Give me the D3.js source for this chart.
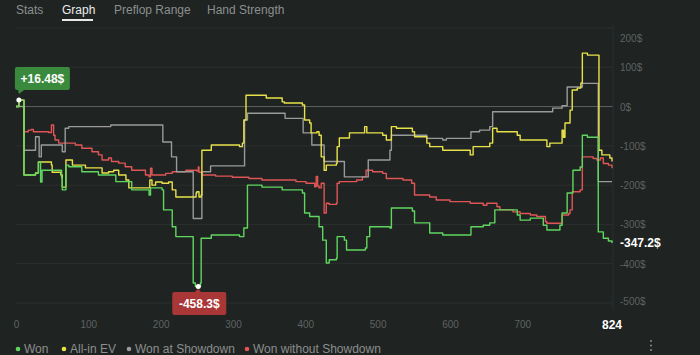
<!DOCTYPE html>
<html><head><meta charset="utf-8">
<script src="https://cdn.jsdelivr.net/npm/d3@7"></script>
<style>
html,body{margin:0;padding:0;background:#1f2322;}
svg{display:block;font-family:"Liberation Sans",Arial,sans-serif;}
</style></head>
<body><svg id="c" width="700" height="355"></svg>
<script>
// ---- data ----
const tabs = ["Stats","Graph","Preflop Range","Hand Strength"];
const activeTab = "Graph";
const legendLabels = ["Won","All-in EV","Won at Showdown","Won without Showdown"];
const seriesColors = ["#5fd65f","#e8e24a","#9a9a9a","#e05555"];
const yTicks = [200,100,0,-100,-200,-300,-400,-500];
const xTicks = [0,100,200,300,400,500,600,700];
const totalHands = 824;
const finalValue = -347.2;
const maxLabel = "+16.48$";
const minLabel = "-458.3$";
const startPoint = [4,16.48];
const minPoint = [252,-458.3];

const wonData = [[0,0],[4,16.48],[10,16.48],[11,-174],[27,-169],[31,-141],[34,-192],[36,-162],[63,-182],[64,-212],[68,-212],[69,-149],[73,-153],[91,-166],[114,-174],[138,-191],[160,-212],[184,-225],[186,-207],[202,-212],[204,-263],[216,-306],[221,-331],[243,-331],[245,-449],[248,-458.3],[255,-449],[256,-335],[268,-335],[270,-327],[309,-331],[315,-309],[320,-200],[340,-205],[368,-212],[396,-220],[399,-271],[406,-280],[419,-306],[424,-340],[429,-398],[433,-390],[443,-386],[444,-331],[454,-340],[457,-365],[483,-360],[485,-331],[489,-306],[517,-309],[519,-258],[548,-266],[551,-296],[572,-322],[590,-327],[628,-327],[629,-306],[646,-302],[655,-296],[662,-263],[693,-276],[697,-289],[711,-284],[729,-302],[734,-314],[752,-302],[755,-271],[762,-220],[769,-220],[770,-162],[780,-154],[783,-73],[790,-78],[804,-78],[805,-319],[812,-335],[819,-342],[824,-347.2]];

const evData = [[0,0],[4,16.48],[10,16.48],[11,-174],[27,-169],[31,-141],[35,-141],[49,-149],[50,-167],[62,-174],[64,-205],[68,-205],[69,-136],[77,-136],[78,-149],[91,-149],[96,-156],[114,-156],[119,-169],[128,-166],[135,-162],[142,-174],[152,-187],[156,-207],[184,-207],[185,-187],[188,-200],[193,-192],[202,-195],[211,-192],[216,-212],[221,-230],[243,-230],[249,-220],[250,-217],[253,-230],[256,-225],[257,-111],[267,-111],[270,-98],[309,-102],[313,-93],[315,-34],[318,29],[320,29],[346,22],[368,12],[371,9],[396,4],[399,-34],[406,-42],[408,-67],[415,-67],[416,-64],[419,-73],[422,-128],[426,-162],[429,-149],[431,-149],[443,-144],[444,-102],[447,-80],[454,-80],[461,-67],[479,-67],[482,-51],[485,-67],[489,-67],[507,-73],[512,-85],[519,-51],[526,-55],[548,-64],[551,-77],[568,-93],[572,-102],[590,-111],[600,-111],[628,-123],[632,-102],[655,-93],[659,-55],[665,-64],[693,-73],[697,-85],[725,-85],[734,-102],[738,-93],[752,-93],[755,-60],[757,-78],[759,-42],[766,-9],[769,42],[776,47],[781,60],[783,136],[790,131],[804,131],[806,-111],[810,-123],[821,-131],[824,-140]];

const sdData = [[0,0],[10,0],[11,-111],[27,-77],[32,-128],[35,-98],[64,-115],[68,-55],[73,-51],[131,-47],[203,-90],[215,-128],[222,-166],[245,-285],[257,-166],[269,-151],[316,-34],[320,-17],[372,-30],[397,-67],[409,-98],[426,-140],[454,-179],[487,-136],[517,-111],[519,-73],[568,-81],[590,-85],[595,-81],[629,-64],[641,-60],[655,-51],[659,-13],[742,-4],[755,2],[762,50],[783,59],[805,-191],[824,-191]];

const nsdData = [[0,0],[4,16.48],[10,16.48],[11,-64],[17,-60],[21,-58],[24,-64],[45,-66],[49,-47],[52,-73],[54,-85],[59,-93],[82,-98],[91,-106],[105,-115],[114,-123],[119,-136],[128,-131],[132,-140],[142,-144],[151,-153],[160,-162],[179,-174],[184,-179],[186,-157],[188,-174],[207,-170],[216,-166],[235,-162],[250,-164],[252,-154],[253,-167],[257,-174],[276,-177],[299,-180],[322,-183],[340,-187],[387,-191],[401,-195],[413,-204],[415,-178],[417,-202],[419,-207],[422,-195],[426,-271],[429,-246],[433,-249],[443,-246],[444,-195],[447,-191],[471,-187],[479,-179],[484,-162],[493,-166],[507,-170],[512,-183],[535,-187],[547,-195],[551,-225],[572,-230],[581,-238],[600,-242],[628,-246],[646,-251],[651,-246],[665,-255],[669,-263],[687,-268],[697,-272],[711,-276],[720,-280],[732,-293],[734,-297],[752,-297],[755,-276],[764,-272],[766,-263],[769,-217],[780,-212],[783,-128],[798,-132],[803,-136],[808,-131],[812,-145],[819,-149],[824,-157]];

const allSeries = [wonData, evData, sdData, nsdData];

// ---- layout ----
const svg = d3.select("#c");
const x = d3.scaleLinear().domain([0,totalHands]).range([16,612]);
const y = d3.scaleLinear().domain([-500,200]).range([303,28]);

// tabs
const tabX = [16,62,114,207];
tabs.forEach((t,i)=>{
  svg.append("text").attr("x",tabX[i]).attr("y",14).attr("font-size",12)
    .attr("fill", t===activeTab ? "#ececec" : "#8b8f8e").text(t);
});
svg.append("rect").attr("x",62).attr("y",19).attr("width",31).attr("height",2).attr("fill","#e8e8e8");

// gridlines
const g = svg.append("g");
g.selectAll("line.grid").data(yTicks).join("line")
  .attr("x1",x(0)).attr("x2",613)
  .attr("y1",d=>y(d)).attr("y2",d=>y(d))
  .attr("stroke",d=>d===0?"#5d6160":"#2b2f2e").attr("stroke-width",1);
g.append("line").attr("x1",613).attr("x2",613).attr("y1",25).attr("y2",310).attr("stroke","#2b2f2e");

// y axis
const yAxis = d3.axisRight(y).tickValues(yTicks).tickSize(0).tickPadding(0).tickFormat(d=>d+"$");
const ya = svg.append("g").attr("transform","translate(620,0)").call(yAxis);
ya.select(".domain").remove();
ya.selectAll("text").attr("fill","#5e6261").attr("font-size",10).attr("font-family","Liberation Sans, Arial, sans-serif")
  .attr("y",d=> Math.max(Math.min(y(d),301),37.5)-y(d)).attr("dy","0.35em");

// x axis
const xAxis = d3.axisBottom(x).tickValues(xTicks).tickSize(0).tickPadding(0);
const xa = svg.append("g").attr("transform","translate(0,321)").call(xAxis);
xa.select(".domain").remove();
xa.selectAll("text").attr("fill","#5e6261").attr("font-size",10).attr("font-family","Liberation Sans, Arial, sans-serif");
svg.append("text").attr("x",x(totalHands)).attr("y",329).attr("text-anchor","middle")
  .attr("font-size",12).attr("font-weight","bold").attr("fill","#ffffff").text(totalHands);

// lines
const line = d3.line().x(d=>x(d[0])).y(d=>y(d[1])).curve(d3.curveStepAfter);
[3,2,1,0].forEach(i=>{
  svg.append("path").datum(allSeries[i]).attr("d",line).attr("fill","none")
    .attr("stroke",seriesColors[i]).attr("stroke-width",1.4).attr("stroke-linejoin","round");
});

// end label
svg.append("text").attr("x",620).attr("y",y(finalValue)).attr("dy","0.35em")
  .attr("font-size",12).attr("font-weight","bold").attr("fill","#ffffff")
  .text(finalValue.toFixed(1)+"$");

// max tooltip
const sx = x(startPoint[0]), sy = y(startPoint[1]);
svg.append("rect").attr("x",sx-4).attr("y",sy-33).attr("width",55).attr("height",23).attr("rx",2).attr("fill","#3a8a3e");
svg.append("path").attr("d",`M${sx-1},${sy-10.5} L${sx+6},${sy-10.5} L${sx},${sy-6} Z`).attr("fill","#3a8a3e");
svg.append("text").attr("x",sx+23.5).attr("y",sy-21.5).attr("dy","0.35em").attr("text-anchor","middle")
  .attr("font-size",12).attr("font-weight","bold").attr("fill","#ffffff").text(maxLabel);
svg.append("circle").attr("cx",sx).attr("cy",sy).attr("r",2.5).attr("fill","#ffffff");

// min tooltip
const mx = x(minPoint[0]), my = y(minPoint[1]);
svg.append("rect").attr("x",mx-26).attr("y",my+5.5).attr("width",54).attr("height",23).attr("rx",2).attr("fill","#a93737");
svg.append("path").attr("d",`M${mx-4},${my+6} L${mx+3},${my+6} L${mx},${my+2} Z`).attr("fill","#a93737");
svg.append("text").attr("x",mx+1).attr("y",my+17).attr("dy","0.35em").attr("text-anchor","middle")
  .attr("font-size",12).attr("font-weight","bold").attr("fill","#ffffff").text(minLabel);
svg.append("circle").attr("cx",mx).attr("cy",my).attr("r",2.5).attr("fill","#ffffff");

// legend
const legX = [18,64,129,247];
legendLabels.forEach((l,i)=>{
  svg.append("circle").attr("cx",legX[i]).attr("cy",349).attr("r",2.3).attr("fill",seriesColors[i]);
  svg.append("text").attr("x",legX[i]+6).attr("y",349).attr("dy","0.35em").attr("font-size",12)
    .attr("fill","#8b8f8e").text(l);
});
// menu dots
[341,345.5,350].forEach(cy=>svg.append("circle").attr("cx",651).attr("cy",cy).attr("r",1).attr("fill","#8b8f8e"));
</script></body></html>
